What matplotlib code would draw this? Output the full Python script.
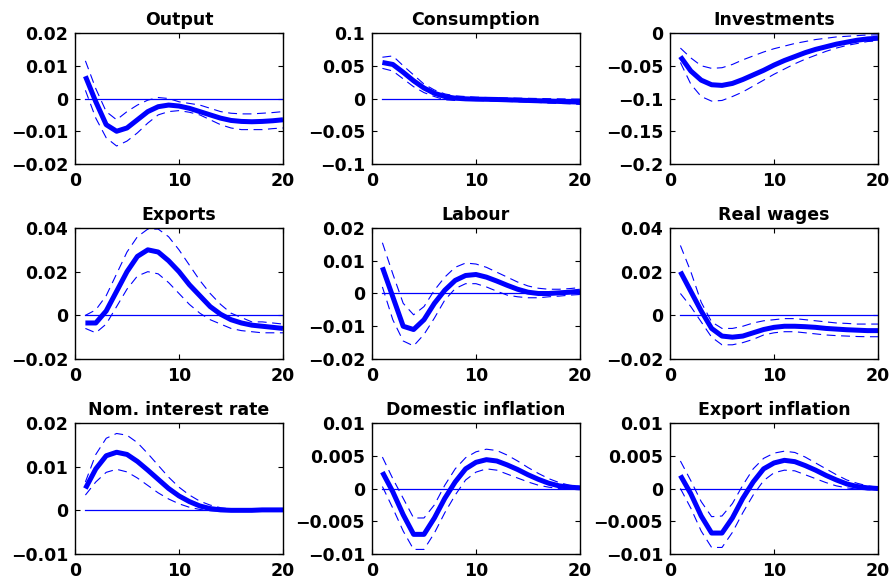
import numpy as np
import matplotlib
matplotlib.use('Agg')
import matplotlib.pyplot as plt
from matplotlib.ticker import FuncFormatter

plt.rcParams['font.family'] = 'DejaVu Sans'
plt.rcParams['font.weight'] = 'bold'

horizon = np.arange(1, 21)

titles = ["Output", "Consumption", "Investments",
          "Exports", "Labour", "Real wages",
          "Nom. interest rate", "Domestic inflation", "Export inflation"]

# impulse responses (median) and upper / lower bands
output_mid = [0.0068, -0.001, -0.008, -0.010, -0.009, -0.0065, -0.004, -0.0025, -0.002, -0.0023,
              -0.003, -0.004, -0.005, -0.006, -0.0067, -0.007, -0.0071, -0.007, -0.0068, -0.0065]
output_hi = [0.0115, 0.003, -0.004, -0.0065, -0.004, -0.002, -0.0005, 0.0003, 0.0, -0.001,
             -0.0015, -0.002, -0.003, -0.004, -0.0045, -0.0047, -0.0047, -0.0045, -0.0043, -0.004]
output_lo = [0.0025, -0.006, -0.012, -0.0145, -0.013, -0.0105, -0.0075, -0.005, -0.004, -0.0037,
             -0.0042, -0.005, -0.0065, -0.008, -0.009, -0.0095, -0.0095, -0.0095, -0.0092, -0.009]

cons_mid = [0.055, 0.052, 0.040, 0.027, 0.016, 0.008, 0.003, 0.0005, -0.0005, -0.001,
            -0.0012, -0.0015, -0.002, -0.0025, -0.003, -0.0035, -0.004, -0.0045, -0.005, -0.0055]
cons_hi = [0.063, 0.065, 0.050, 0.036, 0.022, 0.013, 0.007, 0.004, 0.003, 0.002,
           0.0015, 0.001, 0.0008, 0.0005, 0.0003, 0.0, -0.0003, -0.0005, -0.0008, -0.001]
cons_lo = [0.046, 0.042, 0.030, 0.018, 0.009, 0.003, -0.002, -0.003, -0.003, -0.003,
           -0.0035, -0.004, -0.0045, -0.005, -0.0055, -0.006, -0.007, -0.0075, -0.008, -0.009]

inv_mid = [-0.036, -0.058, -0.072, -0.079, -0.080, -0.077, -0.071, -0.064, -0.057, -0.049,
           -0.042, -0.036, -0.030, -0.025, -0.021, -0.017, -0.014, -0.011, -0.009, -0.008]
inv_hi = [-0.023, -0.038, -0.050, -0.054, -0.053, -0.048, -0.041, -0.035, -0.029, -0.024,
          -0.020, -0.016, -0.013, -0.010, -0.008, -0.006, -0.005, -0.004, -0.003, -0.003]
inv_lo = [-0.045, -0.078, -0.097, -0.104, -0.103, -0.097, -0.090, -0.081, -0.072, -0.063,
          -0.055, -0.047, -0.040, -0.034, -0.028, -0.023, -0.019, -0.016, -0.013, -0.012]

exp_mid = [-0.0035, -0.0035, 0.002, 0.011, 0.020, 0.027, 0.030, 0.029, 0.025, 0.020,
           0.014, 0.009, 0.004, 0.0005, -0.002, -0.0035, -0.0045, -0.005, -0.0055, -0.006]
exp_hi = [0.0, 0.0025, 0.009, 0.019, 0.029, 0.036, 0.0395, 0.0395, 0.036, 0.030,
          0.023, 0.016, 0.010, 0.005, 0.001, -0.001, -0.003, -0.003, -0.0035, -0.004]
exp_lo = [-0.006, -0.008, -0.004, 0.004, 0.012, 0.018, 0.020, 0.019, 0.015, 0.010,
          0.005, 0.001, -0.002, -0.004, -0.006, -0.007, -0.0075, -0.008, -0.008, -0.008]

lab_mid = [0.008, -0.001, -0.010, -0.011, -0.008, -0.003, 0.001, 0.004, 0.0055, 0.0058,
           0.005, 0.0038, 0.0025, 0.0013, 0.0004, 0.0, 0.0, 0.0002, 0.0004, 0.0007]
lab_hi = [0.0155, 0.006, -0.003, -0.0065, -0.004, 0.001, 0.005, 0.008, 0.0093, 0.009,
          0.008, 0.0065, 0.005, 0.0035, 0.0023, 0.0016, 0.0013, 0.0013, 0.0015, 0.0018]
lab_lo = [0.002, -0.008, -0.0145, -0.016, -0.0125, -0.0075, -0.002, 0.0015, 0.003, 0.003,
          0.002, 0.0007, -0.0005, -0.001, -0.0013, -0.0013, -0.001, -0.0008, -0.0005, -0.0003]

wage_mid = [0.020, 0.011, 0.002, -0.006, -0.0095, -0.010, -0.0095, -0.008, -0.0065, -0.0055,
            -0.005, -0.005, -0.0052, -0.0055, -0.006, -0.0063, -0.0066, -0.0068, -0.007, -0.007]
wage_hi = [0.032, 0.020, 0.006, -0.003, -0.006, -0.006, -0.005, -0.0035, -0.0025, -0.002,
           -0.0015, -0.0015, -0.002, -0.0025, -0.003, -0.0035, -0.0037, -0.004, -0.004, -0.004]
wage_lo = [0.010, 0.004, -0.003, -0.010, -0.0135, -0.0135, -0.0125, -0.011, -0.009, -0.008,
           -0.0075, -0.0075, -0.008, -0.0085, -0.009, -0.0093, -0.0095, -0.0097, -0.0098, -0.0098]

rate_mid = [0.005, 0.0095, 0.0125, 0.0133, 0.0128, 0.0112, 0.0092, 0.0071, 0.005, 0.0033,
            0.002, 0.001, 0.0004, 0.0001, 0.0, 0.0, 0.0, 0.0001, 0.0001, 0.0001]
rate_hi = [0.0065, 0.0128, 0.0165, 0.0176, 0.0172, 0.0155, 0.013, 0.0103, 0.0076, 0.0053,
           0.0035, 0.0021, 0.0012, 0.0006, 0.0003, 0.0002, 0.0002, 0.0002, 0.0002, 0.0002]
rate_lo = [0.0035, 0.0065, 0.0087, 0.0094, 0.0088, 0.0074, 0.0057, 0.004, 0.0026, 0.0015,
           0.0007, 0.0002, -0.0001, -0.0002, -0.0002, -0.0002, -0.0001, 0.0, 0.0, 0.0]

dinf_mid = [0.0025, -0.0005, -0.004, -0.007, -0.007, -0.0045, -0.0015, 0.001, 0.003, 0.004,
            0.0044, 0.0042, 0.0036, 0.0029, 0.0021, 0.0014, 0.0008, 0.0004, 0.0002, 0.0001]
dinf_hi = [0.0048, 0.0015, -0.0015, -0.0045, -0.0045, -0.0025, 0.0005, 0.003, 0.0047, 0.0056,
           0.006, 0.0058, 0.0051, 0.0042, 0.0032, 0.0023, 0.0015, 0.0009, 0.0005, 0.0003]
dinf_lo = [0.0003, -0.003, -0.0065, -0.0093, -0.0093, -0.0068, -0.0037, -0.001, 0.0013, 0.0025,
           0.003, 0.0028, 0.0022, 0.0016, 0.001, 0.0005, 0.0002, 0.0, -0.0001, -0.0001]

xinf_mid = [0.002, -0.0008, -0.0042, -0.0068, -0.0068, -0.0045, -0.0015, 0.001, 0.003, 0.0039,
            0.0043, 0.0041, 0.0035, 0.0028, 0.002, 0.0013, 0.0007, 0.0003, 0.0001, 0.0]
xinf_hi = [0.0042, 0.0012, -0.002, -0.0043, -0.0042, -0.0023, 0.0005, 0.003, 0.0046, 0.0054,
           0.0057, 0.0055, 0.0048, 0.0039, 0.003, 0.0021, 0.0013, 0.0008, 0.0004, 0.0002]
xinf_lo = [0.0, -0.003, -0.0065, -0.009, -0.009, -0.0067, -0.0037, -0.001, 0.0012, 0.0024,
           0.0028, 0.0027, 0.0021, 0.0015, 0.0009, 0.0004, 0.0001, -0.0001, -0.0002, -0.0002]

mids = [output_mid, cons_mid, inv_mid, exp_mid, lab_mid, wage_mid, rate_mid, dinf_mid, xinf_mid]
highs = [output_hi, cons_hi, inv_hi, exp_hi, lab_hi, wage_hi, rate_hi, dinf_hi, xinf_hi]
lows = [output_lo, cons_lo, inv_lo, exp_lo, lab_lo, wage_lo, rate_lo, dinf_lo, xinf_lo]

yticks = [[-0.02, -0.01, 0, 0.01, 0.02],
          [-0.1, -0.05, 0, 0.05, 0.1],
          [-0.2, -0.15, -0.1, -0.05, 0],
          [-0.02, 0, 0.02, 0.04],
          [-0.02, -0.01, 0, 0.01, 0.02],
          [-0.02, 0, 0.02, 0.04],
          [-0.01, 0, 0.01, 0.02],
          [-0.01, -0.005, 0, 0.005, 0.01],
          [-0.01, -0.005, 0, 0.005, 0.01]]

fig = plt.figure(figsize=(8.95, 5.83), dpi=100)

lefts = [75, 372, 670]
tops = [33, 228, 423]
w, h = 208, 131
fmt = FuncFormatter(lambda v, p: ('%g' % v).replace('-', '\u2212'))

for i in range(9):
    r, c = divmod(i, 3)
    ax = fig.add_axes([lefts[c] / 895, 1 - (tops[r] + h) / 583, w / 895, h / 583])
    ax.plot([1, 20], [0, 0], color='blue', lw=0.9)
    ax.plot(horizon, highs[i], color='blue', lw=0.8, dashes=(8, 5))
    ax.plot(horizon, lows[i], color='blue', lw=0.8, dashes=(8, 5))
    ax.plot(horizon, mids[i], color='blue', lw=3.6, solid_capstyle='butt')
    ax.set_xlim(0, 20)
    ax.set_xticks([0, 10, 20])
    ax.set_ylim(yticks[i][0], yticks[i][-1])
    ax.set_yticks(yticks[i])
    ax.yaxis.set_major_formatter(fmt)
    ax.tick_params(direction='in', top=True, right=True, length=3.5, width=0.8,
                   labelsize=12.5)
    ax.tick_params(axis='x', pad=6)
    ax.tick_params(axis='y', pad=5)
    for sp in ax.spines.values():
        sp.set_linewidth(1.0)
    ax.set_title(titles[i], fontsize=12.5, fontweight='bold', pad=6)

fig.savefig('out.png', dpi=100)
